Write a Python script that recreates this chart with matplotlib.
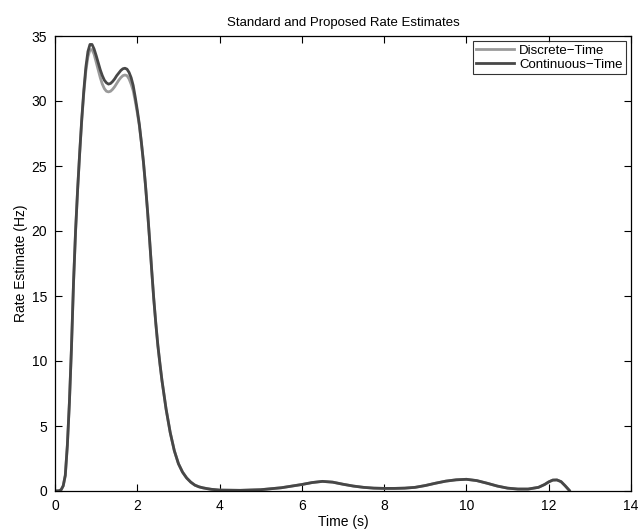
import matplotlib
matplotlib.use("Agg")
import matplotlib.pyplot as plt

plt.rcParams['font.family'] = ['Liberation Sans', 'DejaVu Sans']

time_s = [0.0, 0.1, 0.15, 0.2, 0.25, 0.3, 0.35, 0.4, 0.45, 0.5, 0.55, 0.6, 0.65, 0.7, 0.75,
          0.8, 0.85, 0.9, 0.95, 1.0, 1.05, 1.1, 1.15, 1.2, 1.25, 1.3, 1.35, 1.4, 1.45, 1.5,
          1.55, 1.6, 1.65, 1.7, 1.75, 1.8, 1.85,
          1.9, 1.95, 2.0, 2.05, 2.1, 2.15, 2.2, 2.25, 2.3, 2.35, 2.4, 2.45, 2.5, 2.55,
          2.6, 2.7, 2.8, 2.9, 3.0, 3.1, 3.2, 3.3, 3.4, 3.5, 3.6, 3.7, 3.8, 4.0, 4.5,
          5.0, 5.5, 6.0, 6.25, 6.5, 6.75, 7.0, 7.25, 7.5, 7.75, 8.0, 8.25, 8.5, 8.75,
          9.0, 9.25, 9.5, 9.75, 10.0, 10.25, 10.5, 10.75, 11.0, 11.25, 11.5, 11.75,
          11.9, 12.0, 12.1, 12.2, 12.3, 12.4, 12.5]

continuous_hz = [0.0, 0.02, 0.1, 0.4, 1.2, 3.5, 6.8, 11.0, 16.0, 20.0, 23.2, 26.0, 28.6, 30.8, 32.6,
                 33.8, 34.35, 34.35, 34.0, 33.5, 32.95, 32.4, 31.95, 31.6, 31.4, 31.3, 31.35, 31.5, 31.7, 31.95,
                 32.15, 32.35, 32.48, 32.52, 32.45, 32.2, 31.8,
                 31.2, 30.3, 29.3, 28.2, 26.8, 25.3, 23.5, 21.5, 19.3, 17.0, 14.8, 12.9, 11.2, 9.8,
                 8.5, 6.3, 4.5, 3.1, 2.1, 1.45, 1.0, 0.68, 0.45, 0.32, 0.24, 0.18, 0.13, 0.07, 0.05,
                 0.1, 0.25, 0.5, 0.65, 0.74, 0.68, 0.52, 0.38, 0.28, 0.22, 0.2, 0.2, 0.22, 0.28,
                 0.42, 0.6, 0.76, 0.86, 0.9, 0.8, 0.6, 0.38, 0.22, 0.15, 0.15, 0.28,
                 0.5, 0.7, 0.84, 0.85, 0.72, 0.4, 0.05]

discrete_hz = [0.0, 0.02, 0.1, 0.4, 1.2, 3.5, 6.8, 11.0, 16.0, 20.0, 23.2, 26.0, 28.5, 30.6, 32.3,
               33.4, 33.95, 33.95, 33.6, 33.0, 32.4, 31.8, 31.3, 30.95, 30.75, 30.7, 30.75, 30.9, 31.1, 31.35,
               31.6, 31.8, 31.95, 32.0, 31.95, 31.7, 31.3,
               30.8, 30.0, 29.1, 28.1, 26.8, 25.3, 23.5, 21.5, 19.3, 17.0, 14.8, 12.9, 11.2, 9.8,
               8.5, 6.3, 4.5, 3.1, 2.1, 1.45, 1.0, 0.68, 0.45, 0.32, 0.24, 0.18, 0.13, 0.07, 0.05,
               0.1, 0.25, 0.5, 0.65, 0.74, 0.68, 0.52, 0.38, 0.28, 0.22, 0.2, 0.2, 0.22, 0.28,
               0.42, 0.6, 0.76, 0.86, 0.9, 0.8, 0.6, 0.38, 0.22, 0.15, 0.15, 0.28,
               0.5, 0.7, 0.84, 0.85, 0.72, 0.4, 0.05]

x_ticks = [0, 2, 4, 6, 8, 10, 12, 14]
y_ticks = [0, 5, 10, 15, 20, 25, 30, 35]

fig = plt.figure(figsize=(6.42, 5.29), dpi=100)
ax = fig.add_axes([55/642, (529-491)/529, (631-55)/642, (491-36)/529])

ax.plot(time_s, discrete_hz, color='#9a9a9a', lw=2.0, label='Discrete\u2212Time', solid_joinstyle='round')
ax.plot(time_s, continuous_hz, color='#474747', lw=2.0, label='Continuous\u2212Time', solid_joinstyle='round')

ax.set_xlim(0, 14)
ax.set_ylim(0, 35)
ax.set_xticks(x_ticks)
ax.set_yticks(y_ticks)
ax.tick_params(direction='in', length=5, width=0.8, top=True, right=True, labelsize=10)
ax.tick_params(axis='x', pad=5.5)
ax.tick_params(axis='y', pad=5.5)
for s in ax.spines.values():
    s.set_linewidth(0.9)

ax.set_title('Standard and Proposed Rate Estimates', fontsize=9.5, pad=7)
ax.set_xlabel('Time (s)', fontsize=10, labelpad=2)
ax.set_ylabel('Rate Estimate (Hz)', fontsize=10, labelpad=3)

leg = ax.legend(loc='upper right', fontsize=9.5, frameon=True, fancybox=False,
                edgecolor='black', handlelength=2.9, handletextpad=0.35,
                borderpad=0.25, labelspacing=0.15, borderaxespad=0.4)
leg.get_frame().set_linewidth(0.8)

fig.savefig('out.png', dpi=100)
